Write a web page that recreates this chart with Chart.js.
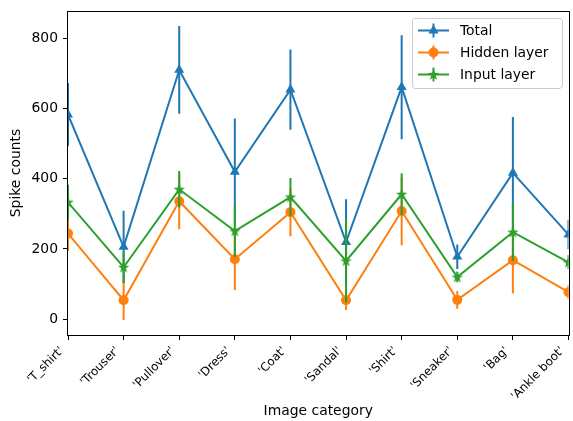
<!DOCTYPE html>
<html><head><meta charset="utf-8">
<script src="https://cdn.jsdelivr.net/npm/chart.js@4"></script>
<style>html,body{margin:0;padding:0;background:#fff;}#wrap{width:573px;height:421px;}</style>
</head><body><div id="wrap"><canvas id="c" width="573" height="421"></canvas></div>
<script>
const categories = ["'T_shirt'", "'Trouser'", "'Pullover'", "'Dress'", "'Coat'", "'Sandal'", "'Shirt'", "'Sneaker'", "'Bag'", "'Ankle boot'"];
const totalValues  = [583, 206, 710, 420, 654, 220, 661, 178, 417, 241];
const totalErrors  = [ 90, 103, 125, 152, 114, 122, 148,  35, 159,  42];
const hiddenValues = [244,  54, 336, 171, 305,  54, 308,  55, 168,  77];
const hiddenErrors = [ 50,  56,  80,  88,  69,  28,  97,  25,  95,  20];
const inputValues  = [333, 148, 370, 251, 348, 166, 356, 120, 248, 162];
const inputErrors  = [ 50,  45,  52,  74,  54, 120,  60,  15,  82,  20];
const yTicks = [0, 200, 400, 600, 800];
const seriesNames = ['Total', 'Hidden layer', 'Input layer'];
const colors = ['#1f77b4', '#ff7f0e', '#2ca02c'];
const FONT = "'DejaVu Sans', 'Liberation Sans', sans-serif";

function starPath(ctx, x, y, R, r) {
  ctx.beginPath();
  for (let i = 0; i < 10; i++) {
    const rad = (i % 2 === 0) ? R : r;
    const a = -Math.PI / 2 + i * Math.PI / 5;
    const px = x + rad * Math.cos(a), py = y + rad * Math.sin(a);
    if (i === 0) ctx.moveTo(px, py); else ctx.lineTo(px, py);
  }
  ctx.closePath();
}
function makeStar(color) {
  const cv = document.createElement('canvas');
  cv.width = 13; cv.height = 13;
  const c = cv.getContext('2d');
  c.fillStyle = color;
  starPath(c, 6.5, 6.8, 6, 2.4);
  c.fill();
  return cv;
}
const starImg = makeStar(colors[2]);

function drawMarker(ctx, style, x, y, color) {
  ctx.save();
  ctx.fillStyle = color;
  if (style === 'triangle') {
    const r = 5.8;
    ctx.beginPath();
    ctx.moveTo(x, y - r);
    ctx.lineTo(x + r * Math.sin(Math.PI / 3), y + r / 2);
    ctx.lineTo(x - r * Math.sin(Math.PI / 3), y + r / 2);
    ctx.closePath(); ctx.fill();
  } else if (style === 'circle') {
    ctx.beginPath(); ctx.arc(x, y, 5, 0, Math.PI * 2); ctx.fill();
  } else {
    starPath(ctx, x, y + 0.3, 6, 2.4); ctx.fill();
  }
  ctx.restore();
}
const markerStyles = ['triangle', 'circle', 'star'];
const errorSets = [totalErrors, hiddenErrors, inputErrors];

const errorBarPlugin = {
  id: 'errorBars',
  beforeDatasetDraw(chart, args) {
    const i = args.index;
    const ds = chart.data.datasets[i];
    const errs = errorSets[i];
    const xs = chart.scales.x, ys = chart.scales.y, a = chart.chartArea;
    const ctx = chart.ctx;
    ctx.save();
    ctx.beginPath(); ctx.rect(a.left, a.top, a.right - a.left, a.bottom - a.top); ctx.clip();
    ctx.strokeStyle = ds.borderColor; ctx.lineWidth = 2;
    ds.data.forEach((v, j) => {
      const x = xs.getPixelForValue(j);
      ctx.beginPath();
      ctx.moveTo(x, ys.getPixelForValue(v - errs[j]));
      ctx.lineTo(x, ys.getPixelForValue(v + errs[j]));
      ctx.stroke();
    });
    ctx.restore();
  }
};

const framePlugin = {
  id: 'frame',
  afterDatasetsDraw(chart) {
    const a = chart.chartArea, ctx = chart.ctx;
    ctx.save();
    ctx.strokeStyle = '#000'; ctx.lineWidth = 1;
    ctx.strokeRect(Math.round(a.left) - 0.5, Math.round(a.top) + 0.5, Math.round(a.right - a.left) + 1, Math.round(a.bottom - a.top));
    ctx.restore();
  }
};

const legendPlugin = {
  id: 'mplLegend',
  afterDraw(chart) {
    const ctx = chart.ctx;
    const bx = 412, by = 18, bw = 150, bh = 70;
    ctx.save();
    ctx.fillStyle = 'rgba(255,255,255,0.8)';
    ctx.strokeStyle = '#cccccc'; ctx.lineWidth = 1;
    const r = 3;
    ctx.beginPath();
    ctx.moveTo(bx + r, by + 0.5);
    ctx.lineTo(bx + bw - r, by + 0.5);
    ctx.quadraticCurveTo(bx + bw + 0.5, by + 0.5, bx + bw + 0.5, by + r);
    ctx.lineTo(bx + bw + 0.5, by + bh - r);
    ctx.quadraticCurveTo(bx + bw + 0.5, by + bh + 0.5, bx + bw - r, by + bh + 0.5);
    ctx.lineTo(bx + r, by + bh + 0.5);
    ctx.quadraticCurveTo(bx + 0.5, by + bh + 0.5, bx + 0.5, by + bh - r);
    ctx.lineTo(bx + 0.5, by + r);
    ctx.quadraticCurveTo(bx + 0.5, by + 0.5, bx + r, by + 0.5);
    ctx.closePath(); ctx.fill(); ctx.stroke();
    ctx.font = '13.9px ' + FONT;
    ctx.textBaseline = 'middle'; ctx.textAlign = 'left';
    chart.data.datasets.forEach((ds, i) => {
      const y = by + 12.5 + i * 22;
      ctx.strokeStyle = ds.borderColor; ctx.lineWidth = 2;
      ctx.beginPath(); ctx.moveTo(418, y); ctx.lineTo(449, y); ctx.stroke();
      ctx.beginPath(); ctx.moveTo(433.5, y - 7); ctx.lineTo(433.5, y + 7); ctx.stroke();
      drawMarker(ctx, markerStyles[i], 433.5, y, ds.borderColor);
      ctx.fillStyle = '#000';
      ctx.fillText(ds.label, 460, y + 1);
    });
    ctx.restore();
  }
};

new Chart(document.getElementById('c'), {
  type: 'line',
  data: {
    labels: categories,
    datasets: [
      { label: seriesNames[0], data: totalValues, borderColor: colors[0], backgroundColor: colors[0], borderWidth: 2,
        pointStyle: 'triangle', pointRadius: 5.8, pointBorderWidth: 0, pointHoverRadius: 5.8, clip: 0, order: 3, tension: 0 },
      { label: seriesNames[1], data: hiddenValues, borderColor: colors[1], backgroundColor: colors[1], borderWidth: 2,
        pointStyle: 'circle', pointRadius: 5, pointBorderWidth: 0, pointHoverRadius: 5, clip: 0, order: 2, tension: 0 },
      { label: seriesNames[2], data: inputValues, borderColor: colors[2], backgroundColor: colors[2], borderWidth: 2,
        pointStyle: starImg, pointRadius: 6, clip: 0, order: 1, tension: 0 }
    ]
  },
  options: {
    responsive: false, animation: false,
    layout: { autoPadding: false, padding: { left: 0, right: 4.5, top: 11, bottom: 0 } },
    plugins: { legend: { display: false }, tooltip: { enabled: false } },
    scales: {
      x: {
        type: 'category', offset: false,
        grid: { drawOnChartArea: false, drawTicks: true, tickLength: 5, color: '#000', lineWidth: 1 },
        border: { display: false },
        ticks: { color: '#000', font: { family: FONT, size: 11.8 }, minRotation: 45, maxRotation: 45, padding: 4, autoSkip: false, labelOffset: -6 },
        title: { display: true, text: 'Image category', color: '#000', font: { family: FONT, size: 13.9 }, padding: { top: 0, bottom: 1 } },
        afterFit(s) { s.height = 86; s.paddingLeft = 0; s.paddingRight = 0; }
      },
      y: {
        min: -45, max: 878,
        grid: { drawOnChartArea: false, drawTicks: true, tickLength: 5, color: '#000', lineWidth: 1 },
        border: { display: false },
        ticks: { color: '#000', font: { family: FONT, size: 13.9 }, padding: 5, stepSize: 200 },
        afterBuildTicks(s) { s.ticks = yTicks.map(v => ({ value: v })); },
        title: { display: true, text: 'Spike counts', color: '#000', font: { family: FONT, size: 13.9 }, padding: { top: 8, bottom: 0 } },
        afterFit(s) { s.width = 68; s.paddingTop = 0; s.paddingBottom = 0; }
      }
    }
  },
  plugins: [errorBarPlugin, framePlugin, legendPlugin]
});
</script>
</body></html>
